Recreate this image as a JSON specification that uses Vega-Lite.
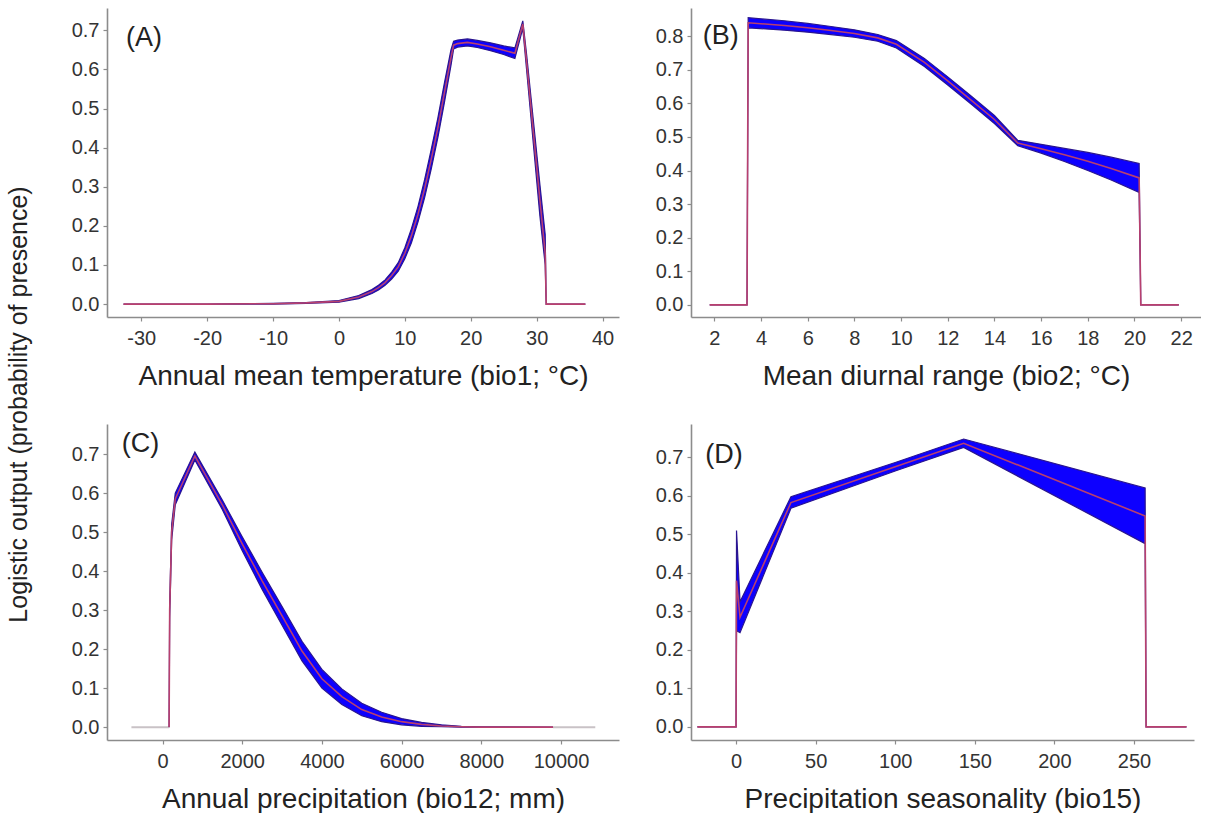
{
  "$schema": "https://vega.github.io/schema/vega-lite/v6.json",
  "padding": {"left": 6, "top": 8, "right": 0, "bottom": 0},
  "background": "white",
  "bounds": "flush",
  "columns": 2,
  "spacing": {"row": 107, "column": 72},
  "config": {
    "view": {"stroke": null},
    "axis": {
      "grid": false,
      "domainColor": "#8c8c8c",
      "domainWidth": 1.6,
      "tickColor": "#8c8c8c",
      "tickSize": 4,
      "tickWidth": 1.2,
      "labelFont": "Liberation Sans",
      "labelFontSize": 20,
      "labelColor": "#333333",
      "labelPadding": 4,
      "labelExpr": "replace(datum.label, '−', '-')",
      "titleFont": "Liberation Sans",
      "titleFontSize": 28,
      "titleFontWeight": "normal",
      "titleColor": "#222222"
    },
    "axisX": {"labelPadding": 7, "titlePadding": 14}
  },
  "datasets": {
    "A": [
      {"x": -32.7, "lo": 0, "m": 0, "hi": 0},
      {"x": -20, "lo": 0, "m": 0, "hi": 0},
      {"x": -10, "lo": 0, "m": 0.001, "hi": 0.002},
      {"x": -5, "lo": 0.002, "m": 0.003, "hi": 0.004},
      {"x": 0, "lo": 0.005, "m": 0.007, "hi": 0.009},
      {"x": 3, "lo": 0.014, "m": 0.018, "hi": 0.022},
      {"x": 5, "lo": 0.027, "m": 0.032, "hi": 0.037},
      {"x": 6, "lo": 0.036, "m": 0.042, "hi": 0.048},
      {"x": 7, "lo": 0.048, "m": 0.055, "hi": 0.062},
      {"x": 8, "lo": 0.064, "m": 0.073, "hi": 0.082},
      {"x": 9, "lo": 0.084, "m": 0.095, "hi": 0.106},
      {"x": 10, "lo": 0.116, "m": 0.13, "hi": 0.144},
      {"x": 11, "lo": 0.157, "m": 0.175, "hi": 0.193},
      {"x": 12, "lo": 0.21, "m": 0.23, "hi": 0.25},
      {"x": 13, "lo": 0.272, "m": 0.295, "hi": 0.318},
      {"x": 14, "lo": 0.345, "m": 0.37, "hi": 0.395},
      {"x": 15, "lo": 0.425, "m": 0.45, "hi": 0.475},
      {"x": 16, "lo": 0.515, "m": 0.54, "hi": 0.565},
      {"x": 17, "lo": 0.61, "m": 0.63, "hi": 0.65},
      {"x": 17.4, "lo": 0.652, "m": 0.662, "hi": 0.672},
      {"x": 18, "lo": 0.657, "m": 0.666, "hi": 0.675},
      {"x": 19.5, "lo": 0.66, "m": 0.669, "hi": 0.678},
      {"x": 21, "lo": 0.656, "m": 0.665, "hi": 0.674},
      {"x": 23, "lo": 0.648, "m": 0.658, "hi": 0.668},
      {"x": 25, "lo": 0.638, "m": 0.649, "hi": 0.66},
      {"x": 26.7, "lo": 0.628, "m": 0.641, "hi": 0.655},
      {"x": 27.9, "lo": 0.705, "m": 0.716, "hi": 0.724},
      {"x": 28.5, "lo": 0.595, "m": 0.615, "hi": 0.635},
      {"x": 29.5, "lo": 0.41, "m": 0.44, "hi": 0.47},
      {"x": 30.5, "lo": 0.225, "m": 0.265, "hi": 0.305},
      {"x": 31.3, "lo": 0.1, "m": 0.13, "hi": 0.178},
      {"x": 31.45, "lo": 0, "m": 0, "hi": 0},
      {"x": 37.4, "lo": 0, "m": 0, "hi": 0}
    ],
    "B": [
      {"x": 1.8, "lo": 0, "m": 0, "hi": 0},
      {"x": 3.4, "lo": 0, "m": 0, "hi": 0},
      {"x": 3.45, "lo": 0.825, "m": 0.84, "hi": 0.855},
      {"x": 5, "lo": 0.818, "m": 0.832, "hi": 0.846},
      {"x": 6, "lo": 0.812, "m": 0.825, "hi": 0.838},
      {"x": 7, "lo": 0.805, "m": 0.817, "hi": 0.829},
      {"x": 8, "lo": 0.797, "m": 0.808, "hi": 0.819},
      {"x": 9, "lo": 0.785, "m": 0.795, "hi": 0.805},
      {"x": 9.8, "lo": 0.765, "m": 0.776, "hi": 0.787},
      {"x": 11, "lo": 0.71, "m": 0.722, "hi": 0.734},
      {"x": 12, "lo": 0.655, "m": 0.667, "hi": 0.679},
      {"x": 13, "lo": 0.598, "m": 0.61, "hi": 0.622},
      {"x": 14, "lo": 0.54, "m": 0.552, "hi": 0.564},
      {"x": 15, "lo": 0.474, "m": 0.482, "hi": 0.49},
      {"x": 16, "lo": 0.452, "m": 0.465, "hi": 0.478},
      {"x": 17, "lo": 0.427, "m": 0.447, "hi": 0.466},
      {"x": 18, "lo": 0.4, "m": 0.428, "hi": 0.454},
      {"x": 19, "lo": 0.372, "m": 0.406, "hi": 0.44},
      {"x": 20.2, "lo": 0.335, "m": 0.378, "hi": 0.421},
      {"x": 20.27, "lo": 0, "m": 0, "hi": 0},
      {"x": 21.9, "lo": 0, "m": 0, "hi": 0}
    ],
    "C": [
      {"x": 165, "lo": 0, "m": 0, "hi": 0},
      {"x": 180, "lo": 0.28, "m": 0.3, "hi": 0.32},
      {"x": 230, "lo": 0.48, "m": 0.5, "hi": 0.52},
      {"x": 320, "lo": 0.57, "m": 0.585, "hi": 0.6},
      {"x": 812, "lo": 0.685, "m": 0.695, "hi": 0.705},
      {"x": 1500, "lo": 0.558, "m": 0.57, "hi": 0.582},
      {"x": 2000, "lo": 0.452, "m": 0.47, "hi": 0.488},
      {"x": 2500, "lo": 0.353, "m": 0.375, "hi": 0.397},
      {"x": 3000, "lo": 0.261, "m": 0.285, "hi": 0.309},
      {"x": 3500, "lo": 0.17, "m": 0.195, "hi": 0.22},
      {"x": 4000, "lo": 0.1, "m": 0.124, "hi": 0.148},
      {"x": 4500, "lo": 0.058, "m": 0.078, "hi": 0.098},
      {"x": 5000, "lo": 0.029, "m": 0.045, "hi": 0.061},
      {"x": 5500, "lo": 0.014, "m": 0.026, "hi": 0.038},
      {"x": 6000, "lo": 0.006, "m": 0.014, "hi": 0.022},
      {"x": 6500, "lo": 0.002, "m": 0.007, "hi": 0.012},
      {"x": 7000, "lo": 0.001, "m": 0.003, "hi": 0.006},
      {"x": 7500, "lo": 0, "m": 0.001, "hi": 0.002},
      {"x": 8000, "lo": 0, "m": 0, "hi": 0.001},
      {"x": 9800, "lo": 0, "m": 0, "hi": 0}
    ],
    "Cgray": [
      {"x": -780, "m": 0, "seg": "left"},
      {"x": 165, "m": 0, "seg": "left"},
      {"x": 9800, "m": 0, "seg": "right"},
      {"x": 10860, "m": 0, "seg": "right"}
    ],
    "D": [
      {"x": -24.3, "lo": 0, "m": 0, "hi": 0},
      {"x": 0, "lo": 0, "m": 0, "hi": 0},
      {"x": 0.3, "lo": 0.25, "m": 0.38, "hi": 0.51},
      {"x": 2.5, "lo": 0.245, "m": 0.285, "hi": 0.325},
      {"x": 34.5, "lo": 0.568, "m": 0.583, "hi": 0.598},
      {"x": 100, "lo": 0.665, "m": 0.676, "hi": 0.687},
      {"x": 143, "lo": 0.726, "m": 0.737, "hi": 0.748},
      {"x": 257, "lo": 0.476, "m": 0.548, "hi": 0.621},
      {"x": 257.6, "lo": 0, "m": 0, "hi": 0},
      {"x": 283, "lo": 0, "m": 0, "hi": 0}
    ]
  },
  "concat": [
    {
      "width": 512,
      "height": 309,
      "encoding": {
        "x": {"type": "quantitative", "scale": {"domain": [-35.2, 42.5], "nice": false, "zero": false},
              "axis": {"values": [-30, -20, -10, 0, 10, 20, 30, 40], "title": "Annual mean temperature (bio1; °C)"}},
        "y": {"type": "quantitative", "scale": {"domain": [-0.033, 0.757], "nice": false, "zero": false},
              "axis": {"values": [0, 0.1, 0.2, 0.3, 0.4, 0.5, 0.6, 0.7], "format": ".1f",
                       "title": "Logistic output (probability of presence)", "titleFontSize": 25, "titleX": -76, "titleY": 396, "titleBaseline": "bottom"}}
      },
      "layer": [
        {"data": {"name": "A"},
         "mark": {"type": "area", "fill": "#0d00ff", "stroke": "#2a1590", "strokeWidth": 1.2},
         "encoding": {"x": {"field": "x"}, "y": {"field": "hi"}, "y2": {"field": "lo"}}},
        {"data": {"name": "A"},
         "mark": {"type": "line", "color": "#b8406e", "strokeWidth": 1.6},
         "encoding": {"x": {"field": "x"}, "y": {"field": "m"}}},
        {"data": {"values": [{}]},
         "mark": {"type": "text", "align": "left", "baseline": "middle", "font": "Liberation Sans", "fontSize": 27, "color": "#222222"},
         "encoding": {"x": {"datum": -32.3}, "y": {"datum": 0.68}, "text": {"value": "(A)"}}}
      ]
    },
    {
      "width": 510,
      "height": 309,
      "encoding": {
        "x": {"type": "quantitative", "scale": {"domain": [1.0, 22.85], "nice": false, "zero": false},
              "axis": {"values": [2, 4, 6, 8, 10, 12, 14, 16, 18, 20, 22], "title": "Mean diurnal range (bio2; °C)"}},
        "y": {"type": "quantitative", "scale": {"domain": [-0.036, 0.884], "nice": false, "zero": false},
              "axis": {"values": [0, 0.1, 0.2, 0.3, 0.4, 0.5, 0.6, 0.7, 0.8], "format": ".1f", "title": null}}
      },
      "layer": [
        {"data": {"name": "B"},
         "mark": {"type": "area", "fill": "#0d00ff", "stroke": "#2a1590", "strokeWidth": 1.2},
         "encoding": {"x": {"field": "x"}, "y": {"field": "hi"}, "y2": {"field": "lo"}}},
        {"data": {"name": "B"},
         "mark": {"type": "line", "color": "#b8406e", "strokeWidth": 1.6},
         "encoding": {"x": {"field": "x"}, "y": {"field": "m"}}},
        {"data": {"values": [{}]},
         "mark": {"type": "text", "align": "left", "baseline": "middle", "font": "Liberation Sans", "fontSize": 27, "color": "#222222"},
         "encoding": {"x": {"datum": 1.5}, "y": {"datum": 0.8}, "text": {"value": "(B)"}}}
      ]
    },
    {
      "width": 512,
      "height": 316,
      "encoding": {
        "x": {"type": "quantitative", "scale": {"domain": [-1393, 11455], "nice": false, "zero": false},
              "axis": {"values": [0, 2000, 4000, 6000, 8000, 10000], "format": "d", "title": "Annual precipitation (bio12; mm)"}},
        "y": {"type": "quantitative", "scale": {"domain": [-0.033, 0.777], "nice": false, "zero": false},
              "axis": {"values": [0, 0.1, 0.2, 0.3, 0.4, 0.5, 0.6, 0.7], "format": ".1f", "title": null}}
      },
      "layer": [
        {"data": {"name": "Cgray"},
         "mark": {"type": "line", "color": "#c9c2c6", "strokeWidth": 2},
         "encoding": {"x": {"field": "x"}, "y": {"field": "m"}, "detail": {"field": "seg"}}},
        {"data": {"name": "C"},
         "mark": {"type": "area", "fill": "#0d00ff", "stroke": "#2a1590", "strokeWidth": 1.2},
         "encoding": {"x": {"field": "x"}, "y": {"field": "hi"}, "y2": {"field": "lo"}}},
        {"data": {"name": "C"},
         "mark": {"type": "line", "color": "#b8406e", "strokeWidth": 1.6},
         "encoding": {"x": {"field": "x"}, "y": {"field": "m"}}},
        {"data": {"values": [{}]},
         "mark": {"type": "text", "align": "left", "baseline": "middle", "font": "Liberation Sans", "fontSize": 27, "color": "#222222"},
         "encoding": {"x": {"datum": -1020}, "y": {"datum": 0.726}, "text": {"value": "(C)"}}}
      ]
    },
    {
      "width": 503,
      "height": 316,
      "encoding": {
        "x": {"type": "quantitative", "scale": {"domain": [-28.3, 287.7], "nice": false, "zero": false},
              "axis": {"values": [0, 50, 100, 150, 200, 250], "title": "Precipitation seasonality (bio15)"}},
        "y": {"type": "quantitative", "scale": {"domain": [-0.034, 0.787], "nice": false, "zero": false},
              "axis": {"values": [0, 0.1, 0.2, 0.3, 0.4, 0.5, 0.6, 0.7], "format": ".1f", "title": null}}
      },
      "layer": [
        {"data": {"name": "D"},
         "mark": {"type": "area", "fill": "#0d00ff", "stroke": "#2a1590", "strokeWidth": 1.2},
         "encoding": {"x": {"field": "x"}, "y": {"field": "hi"}, "y2": {"field": "lo"}}},
        {"data": {"name": "D"},
         "mark": {"type": "line", "color": "#b8406e", "strokeWidth": 1.6},
         "encoding": {"x": {"field": "x"}, "y": {"field": "m"}}},
        {"data": {"values": [{}]},
         "mark": {"type": "text", "align": "left", "baseline": "middle", "font": "Liberation Sans", "fontSize": 27, "color": "#222222"},
         "encoding": {"x": {"datum": -19.4}, "y": {"datum": 0.707}, "text": {"value": "(D)"}}}
      ]
    }
  ]
}
